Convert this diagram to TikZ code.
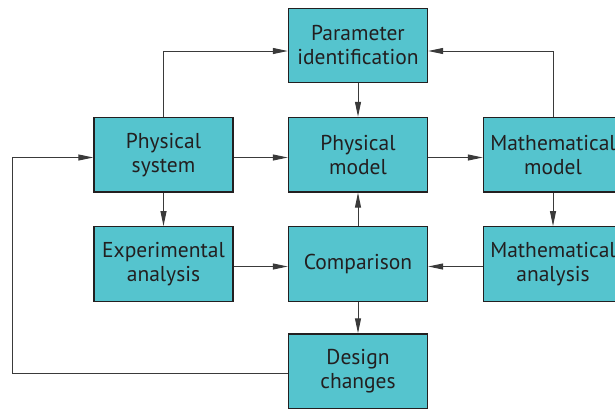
\documentclass[tikz,border=0pt]{standalone}
\usepackage{fontspec}
\setmainfont{PT Sans}
\usetikzlibrary{arrows.meta}
\definecolor{boxfill}{HTML}{55C4CE}
\definecolor{ink}{HTML}{231F20}
\definecolor{wire}{HTML}{3A3A3A}
\begin{document}
\begin{tikzpicture}[x=1pt,y=-1pt,
  blk/.style={draw=ink,line width=1.4pt,fill=boxfill,minimum width=139pt,minimum height=74.5pt,
    inner sep=0pt,align=center,text=ink,font=\fontsize{21.5}{24}\selectfont},
  conn/.style={draw=wire,line width=1pt,-{Triangle[length=15pt,width=6pt]}},
  plain/.style={draw=wire,line width=1pt}]
\useasboundingbox (0,0) rectangle (615,410);
\clip (0,0) rectangle (615,410);
\node[blk] (pi) at (358,45.5) {Parameter\\identification};
\node[blk] (ps) at (163.5,154.7) {Physical\\system};
\node[blk] (pm) at (358,154.7) {Physical\\model};
\node[blk] (mm) at (553,154.7) {Mathematical\\model};
\node[blk] (ea) at (163.5,264) {Experimental\\analysis};
\node[blk] (cp) at (358,264) {Comparison};
\node[blk] (ma) at (553,264) {Mathematical\\analysis};
\node[blk] (dc) at (358,371.2) {Design\\changes};
\coordinate (r0) at (0,51);
\coordinate (r1) at (0,157.5);
\coordinate (r2) at (0,266.5);
\coordinate (r3) at (0,373);
\coordinate (lx) at (12.7,0);
% top loops
\draw[conn] (ps.north) |- (pi.west |- r0);
\draw[conn] (mm.north) |- (pi.east |- r0);
% verticals
\draw[conn] (pi.south) -- (pm.north);
\draw[conn] (cp.north) -- (pm.south);
\draw[conn] (ps.south) -- (ea.north);
\draw[conn] (mm.south) -- (ma.north);
\draw[conn] (cp.south) -- (dc.north);
% horizontals
\draw[conn] (ps.east |- r1) -- (pm.west |- r1);
\draw[conn] (pm.east |- r1) -- (mm.west |- r1);
\draw[conn] (ea.east |- r2) -- (cp.west |- r2);
\draw[conn] (ma.west |- r2) -- (cp.east |- r2);
% feedback loop
\draw[conn] (dc.west |- r3) -| (lx |- r1) -- (ps.west |- r1);
\end{tikzpicture}
\end{document}
